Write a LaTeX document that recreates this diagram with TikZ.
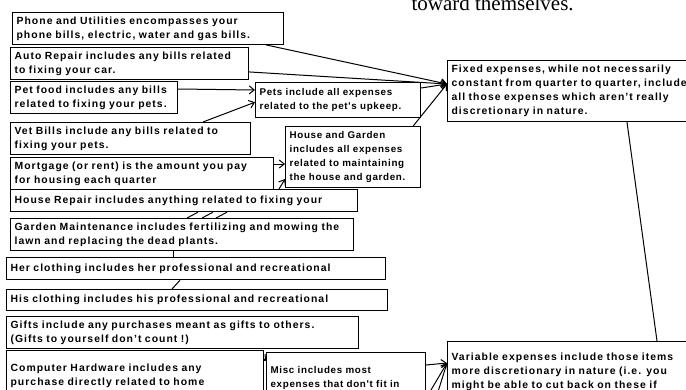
\documentclass[tikz,border=0pt]{standalone}
\usepackage{fontspec}
\setmainfont{Liberation Sans}[LetterSpace=10]
\newfontfamily\tightfont{Liberation Sans}[LetterSpace=7]
\newfontfamily\headfont{Liberation Serif}
\usepackage{tikz}
\usetikzlibrary{arrows.meta,calc,backgrounds}
\newcommand{\notefont}{\fontsize{10.4}{14}\selectfont\bfseries}
\newcommand{\smallnotefont}{\tightfont\fontsize{9.8}{14}\selectfont\bfseries}
\tikzset{note/.style={draw,line width=1.2pt,fill=white,anchor=north west,inner sep=4pt,align=left,font=\notefont,text width=#1},
	small note/.style={note=#1,font=\smallnotefont},
	link/.style={line width=1pt}}

\begin{document}
\begin{tikzpicture}[x=1pt,y=-1pt,>={Straight Barb[length=5pt,width=8pt]}]
	\useasboundingbox (0,0) rectangle (686,389);
	\clip (0,0) rectangle (686,389);
	
	\node[anchor=base west,font=\headfont\fontsize{21}{24}\selectfont] (heading) at (408,10) {toward themselves.};
	
	% left column
	\node[note={263pt},minimum height=31pt] (phone) at (12,12) {Phone and Utilities encompasses your\\phone bills, electric, water and gas bills.};
	\node[note={230pt},minimum height=29pt] (auto) at (10,47) {Auto Repair includes any bills related\\to fixing your car.};
	\node[note={159pt},minimum height=31pt] (petfood) at (10,81) {Pet food includes any bills\\related to fixing your pets.};
	\node[note={232pt},minimum height=29pt] (vet) at (10,122) {Vet Bills include any bills related to\\fixing your pets.};
	\node[note={255pt},minimum height=28pt] (mortgage) at (10,157) {Mortgage (or rent) is the amount you pay\\for housing each quarter};
	\node[note={339pt},minimum height=22pt] (repair) at (10,189) {House Repair includes anything related to fixing your};
	\node[note={335pt},minimum height=32pt] (garden) at (10,218) {Garden Maintenance includes fertilizing and mowing the\\lawn and replacing the dead plants.};
	\node[note={371pt},minimum height=22pt] (her) at (6,257) {Her clothing includes her professional and recreational};
	\node[note={373pt},minimum height=21pt] (his) at (6,289) {His clothing includes his professional and recreational};
	\node[note={344pt},minimum height=30pt] (gifts) at (6,316) {Gifts include any purchases meant as gifts to others.\\(Gifts to yourself don't count !)};
	\node[note={249pt},minimum height=50pt] (computer) at (6,350) {Computer Hardware includes any\\purchase directly related to home};
	
	% middle column
	\node[small note={157pt},minimum height=35pt] (pets) at (255,82) {Pets include all expenses\\related to the pet's upkeep.};
	\node[small note={127pt},minimum height=61pt] (house) at (285,126) {House and Garden\\includes all expenses\\related to maintaining\\the house and garden.};
	\node[small note={151pt},minimum height=50pt] (misc) at (266,352) {Misc includes most\\expenses that don't fit in};
	
	% right column
	\node[note={252pt},minimum height=61pt] (fixed) at (447,60) {Fixed expenses, while not necessarily\\constant from quarter to quarter, include\\all those expenses which aren't really\\discretionary in nature.};
	\node[note={252pt},minimum height=60pt] (variable) at (447,341) {Variable expenses include those items\\more discretionary in nature (i.e. you\\might be able to cut back on these if};
	
	\coordinate (fixin) at ($(fixed.north west)+(0,24)$);
	\coordinate (varin) at ($(variable.north west)+(0,22)$);
	\coordinate (offa) at (428,395);
	\coordinate (offb) at (437,395);
	
	\begin{scope}[on background layer]
		\path[->,link]
		($(phone.south east)+(-18,0)$) edge (fixin)
		($(auto.south east)+(0,-8)$) edge (fixin)
		($(pets.north east)+(0,6)$) edge (fixin)
		($(house.north east)+(-8,0)$) edge (fixin)
		;
		
		\path[->,link]
		($(petfood.north east)+(0,8)$) edge ($(pets.north west)+(0,8)$)
		($(vet.north west)+(193,0)$) edge ($(pets.south west)+(0,-16)$)
		($(mortgage.north east)+(0,7)$) edge ($(house.north west)+(0,38)$)
		($(repair.north west)+(269,0)$) edge ($(house.north west)+(0,53)$)
		;
		
		\path[link]
		($(garden.north west)+(177,0)$) edge ($(repair.south west)+(188,0)$)
		($(garden.north west)+(192,0)$) edge ($(repair.south west)+(203,0)$)
		($(garden.north west)+(206,0)$) edge ($(repair.south west)+(217,0)$)
		($(her.north west)+(167,0)$) edge ($(garden.south west)+(163,0)$)
		($(his.north west)+(166,0)$) edge ($(her.south west)+(174,0)$)
		;
		
		\path[->,link]
		($(computer.north east)+(0,9)$) edge ($(misc.north west)+(0,9)$)
		($(misc.north east)+(0,13)$) edge (varin)
		(offa) edge (varin)
		(offb) edge (varin)
		;
		
		\path[link] ($(fixed.south west)+(180,0)$) edge ($(variable.north west)+(210,0)$);
	\end{scope}
\end{tikzpicture}
\end{document}
